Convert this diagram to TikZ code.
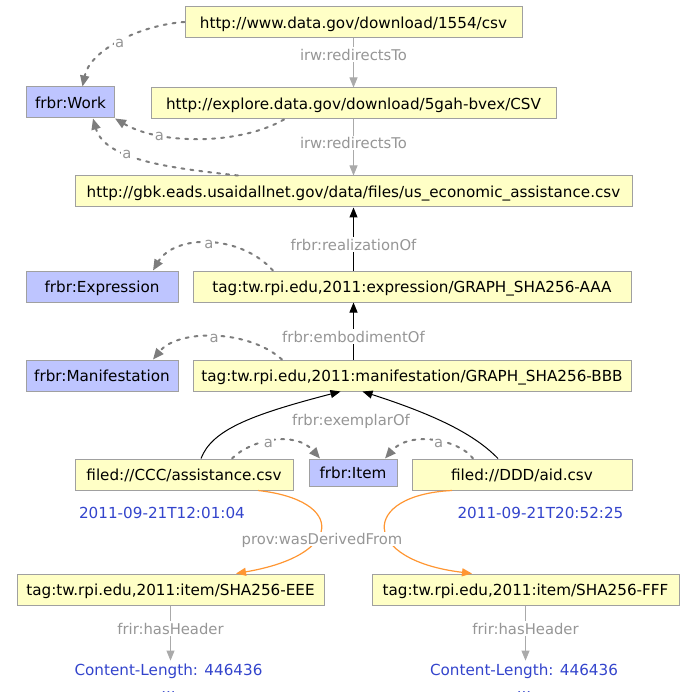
\documentclass[tikz,border=0pt]{standalone}
\usepackage{fontspec}
\setmainfont{DejaVu Sans}
\usetikzlibrary{arrows.meta}
\definecolor{resfill}{RGB}{255,255,198}
\definecolor{clsfill}{RGB}{190,197,255}
\definecolor{boxline}{RGB}{160,160,160}
\definecolor{lblgray}{RGB}{150,150,150}
\definecolor{typgray}{RGB}{125,125,125}
\definecolor{rdrgray}{RGB}{170,170,170}
\definecolor{litblue}{RGB}{51,68,204}
\definecolor{derorange}{RGB}{255,150,50}

\begin{document}
\begin{tikzpicture}[x=1pt, y=-1pt, >={Triangle[length=10pt,width=8pt]},
	every node/.style={font=\fontsize{15.2}{18}\selectfont, inner sep=0pt},
	res/.style={draw=boxline, fill=resfill, line width=1pt, minimum height=31pt, text height=12.4pt, text depth=0pt},
	cls/.style={draw=boxline, fill=clsfill, line width=1pt, minimum height=31pt, text height=12.4pt, text depth=0pt},
	lbl/.style={font=\fontsize{14.8}{17}\selectfont, text=lblgray, fill=white, inner sep=1.5pt, text height=11.6pt, text depth=0pt},
	val/.style={text=litblue, text height=12.4pt, text depth=0pt, inner sep=2pt},
	typ/.style={-{Triangle[length=11pt,width=9pt]}, typgray, line width=2pt, line cap=round, dash pattern=on 3pt off 6pt},
	rdr/.style={->, rdrgray, line width=0.8pt},
	frb/.style={->, black, line width=1pt},
	der/.style={->, derorange, line width=1.2pt}]
	\useasboundingbox (0,0) rectangle (686,692);

	\node[cls, minimum width=88pt] (w) at (70.5, 102.5) {frbr:Work};
	\node[res, minimum width=337pt] (n1) at (353.5, 22) {http://www.data.gov/download/1554/csv};
	\node[res, minimum width=405pt] (n2) at (353.5, 103.5) {http://explore.data.gov/download/5gah-bvex/CSV};
	\node[res, minimum width=557pt] (n3) at (353.5, 191.5) {http://gbk.eads.usaidallnet.gov/data/files/us\_economic\_assistance.csv};

	\node[cls, minimum width=152pt] (e) at (102, 286.5) {frbr:Expression};
	\node[res, minimum width=438pt] (n4) at (412, 286.5) {tag:tw.rpi.edu,2011:expression/GRAPH\_SHA256-AAA};
	\node[cls, minimum width=152pt] (m) at (102, 375.5) {frbr:Manifestation};
	\node[res, minimum width=438pt] (n5) at (412, 375.5) {tag:tw.rpi.edu,2011:manifestation/GRAPH\_SHA256-BBB};

	\node[res, minimum width=218pt] (n6) at (184, 474.5) {filed://CCC/assistance.csv};
	\node[cls, minimum width=88pt, minimum height=27pt] (i) at (353, 472.5) {frbr:Item};
	\node[res, minimum width=220pt] (n7) at (522, 474.5) {filed://DDD/aid.csv};

	\node[val] (t1) at (162, 512) {2011-09-21T12:01:04};
	\node[val] (t2) at (540.5, 512) {2011-09-21T20:52:25};

	\node[res, minimum width=307pt] (n8) at (170.5, 589.5) {tag:tw.rpi.edu,2011:item/SHA256-EEE};
	\node[res, minimum width=307pt] (n9) at (525.5, 589.5) {tag:tw.rpi.edu,2011:item/SHA256-FFF};

	\node[val] (c1) at (168.5, 669) {Content-Length: 446436};
	\node[val] (c2) at (524, 669) {Content-Length: 446436};
	\node[text=litblue, anchor=base] (d1) at (168.5, 693) {...};
	\node[text=litblue, anchor=base] (d2) at (524, 693) {...};

	\draw[rdr] (n1) -- node[lbl, pos=0.33] (l1) {irw:redirectsTo} (n2);
	\draw[rdr] (n2) -- node[lbl, pos=0.42] (l2) {irw:redirectsTo} (n3);
	\draw[frb] (n4.north -| n3) -- node[lbl, pos=0.41] (l3) {frbr:realizationOf} (n3.south);
	\draw[frb] (n5.north -| n3) -- node[lbl, pos=0.4] (l4) {frbr:embodimentOf} (n4.south -| n3);
	\draw[rdr] (n8.south) -- node[lbl, pos=0.42] (l7) {frir:hasHeader} (n8.south |- c1.north);
	\draw[rdr] (n9.south) -- node[lbl, pos=0.42] (l8) {frir:hasHeader} (n9.south |- c2.north);

	\draw[typ] (n1.west) .. controls (140, 25) and (90, 50) .. node[lbl, pos=0.5] (a1) {a} ([xshift=12pt]w.north);
	\draw[typ] ([xshift=-69.5pt]n2.south) .. controls (240, 145) and (160, 145) .. node[lbl, pos=0.72] (a2) {a} (w.south east);
	\draw[typ] ([xshift=-115.5pt]n3.north) .. controls (170, 168) and (105, 160) .. node[lbl, pos=0.62] (a3) {a} ([xshift=22.5pt]w.south);
	\draw[typ] ([xshift=-139pt]n4.north) .. controls (240, 234) and (175, 234) .. node[lbl, pos=0.5] (a4) {a} ([xshift=51pt]e.north);
	\draw[typ] ([xshift=-130pt]n5.north) .. controls (248, 329) and (178, 329) .. node[lbl, pos=0.5] (a5) {a} ([xshift=51pt]m.north);
	\draw[typ] ([xshift=48pt]n6.north) .. controls (250, 440) and (295, 430) .. node[lbl, pos=0.45] (a6) {a} ([xshift=-33pt]i.north);
	\draw[typ] ([xshift=-49pt]n7.north) .. controls (460, 440) and (410, 430) .. node[lbl, pos=0.45] (a7) {a} ([xshift=32pt]i.north);

	\draw[frb] ([xshift=17pt]n6.north) .. controls (212, 430) and (250, 415) .. ([xshift=-71.5pt]n5.south);
	\draw[frb] ([xshift=-24pt]n7.north) .. controls (478, 438) and (445, 418) .. ([xshift=-49.5pt]n5.south);
	\node[lbl] (l5) at (351, 420) {frbr:exemplarOf};

	\draw[der] ([xshift=74pt]n6.south) .. controls (345, 500) and (345, 555) .. ([xshift=65.5pt]n8.north);
	\draw[der] ([xshift=-70pt]n7.south) .. controls (360, 495) and (360, 560) .. ([xshift=-53.5pt]n9.north);
	\node[lbl] (l6) at (322, 539) {prov:wasDerivedFrom};
\end{tikzpicture}
\end{document}
